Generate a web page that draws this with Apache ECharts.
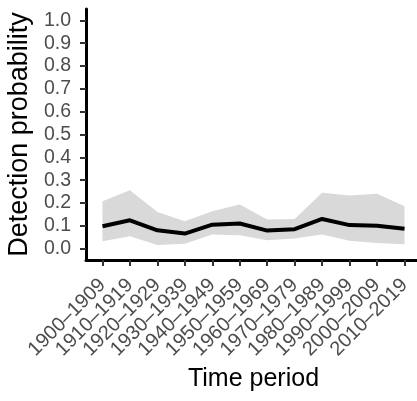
<!DOCTYPE html>
<html>
<head>
<meta charset="utf-8">
<script src="https://cdn.jsdelivr.net/npm/echarts@6/dist/echarts.min.js"></script>
<style>
html,body{margin:0;padding:0;background:#fff;}
#chart{width:417px;height:401px;}
</style>
</head>
<body>
<div id="chart"></div>
<script>
var categories = ["1900\u20131909","1910\u20131919","1920\u20131929","1930\u20131939","1940\u20131949","1950\u20131959","1960\u20131969","1970\u20131979","1980\u20131989","1990\u20131999","2000\u20132009","2010\u20132019"];
var meanValues = [0.098,0.124,0.080,0.066,0.105,0.110,0.079,0.085,0.130,0.103,0.100,0.087];
var upperValues = [0.208,0.256,0.160,0.120,0.164,0.193,0.127,0.130,0.245,0.233,0.240,0.186];
var lowerValues = [0.032,0.054,0.016,0.021,0.062,0.059,0.037,0.044,0.062,0.034,0.025,0.019];
var yTicks = [0,0.1,0.2,0.3,0.4,0.5,0.6,0.7,0.8,0.9,1.0];

var idx = categories.map(function(_, i){ return i; });
var font = "'Liberation Sans', Arial, sans-serif";

// ggplot-style discrete expansion of 0.6 category widths on each side
var plotLeft = 86, plotRight = 421;
var band = (plotRight - plotLeft) / (categories.length - 1 + 1.2);
var catLeft = plotLeft + 0.1 * band;
var catRight = catLeft + categories.length * band;

var chart = echarts.init(document.getElementById('chart'), null, {renderer:'canvas'});
chart.setOption({
  animation: false,
  backgroundColor: '#fff',
  grid: [
    {left: plotLeft, right: 417 - plotRight, top: 9, bottom: 141, outerBoundsMode: 'none'},
    {left: catLeft, right: 417 - catRight, top: 9, bottom: 141, outerBoundsMode: 'none'}
  ],
  xAxis: [
    {
      gridIndex: 0,
      type: 'value',
      min: -0.6, max: 11.6,
      axisLine: {show: true, onZero: false, lineStyle: {color: '#000', width: 3}},
      axisTick: {show: false},
      axisLabel: {show: false},
      splitLine: {show: false}
    },
    {
      gridIndex: 1,
      type: 'category',
      data: categories,
      boundaryGap: true,
      name: 'Time period',
      nameLocation: 'middle',
      nameGap: 106,
      nameTextStyle: {fontFamily: font, fontSize: 25, color: '#000'},
      axisLine: {show: false, onZero: false},
      axisTick: {show: true, alignWithLabel: true, interval: 0, length: 6, lineStyle: {color: '#333', width: 2}},
      axisLabel: {
        interval: 0,
        rotate: 45,
        margin: 22,
        fontFamily: font, fontSize: 20, color: '#4d4d4d'
      },
      splitLine: {show: false}
    }
  ],
  yAxis: [
    {
      gridIndex: 0,
      type: 'value',
      min: -0.05, max: 1.05,
      name: 'Detection probability',
      nameLocation: 'middle',
      nameGap: 49,
      nameTextStyle: {fontFamily: font, fontSize: 27, color: '#000'},
      axisLine: {show: true, onZero: false, lineStyle: {color: '#000', width: 3}},
      axisTick: {show: true, length: 6, customValues: yTicks, lineStyle: {color: '#333', width: 2}},
      axisLabel: {
        customValues: yTicks,
        showMinLabel: true, showMaxLabel: true,
        margin: 15,
        fontFamily: font, fontSize: 19.5, color: '#4d4d4d',
        formatter: function(v){ return v.toFixed(1); }
      },
      splitLine: {show: false}
    },
    {
      gridIndex: 1,
      type: 'value',
      min: -0.05, max: 1.05,
      show: false
    }
  ],
  series: [
    {
      type: 'custom',
      xAxisIndex: 0, yAxisIndex: 0,
      silent: true,
      data: idx.map(function(i){ return [i, lowerValues[i], upperValues[i]]; }),
      encode: {x: 0, y: [1, 2]},
      renderItem: function(params, api){
        if (params.dataIndex !== 0) return null;
        var pts = [];
        for (var i = 0; i < idx.length; i++) pts.push(api.coord([idx[i], upperValues[i]]));
        for (var j = idx.length - 1; j >= 0; j--) pts.push(api.coord([idx[j], lowerValues[j]]));
        return {type: 'polygon', shape: {points: pts}, style: {fill: '#d9d9d9'}};
      },
      z: 1
    },
    {
      type: 'line', symbol: 'none',
      xAxisIndex: 0, yAxisIndex: 0,
      data: idx.map(function(i){ return [i, meanValues[i]]; }),
      lineStyle: {color: '#000', width: 4}, z: 5
    }
  ]
});
</script>
</body>
</html>
